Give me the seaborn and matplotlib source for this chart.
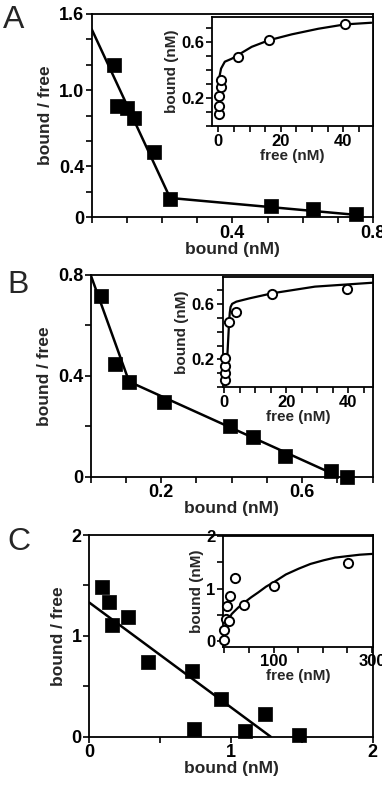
import matplotlib
matplotlib.use("Agg")
import matplotlib.pyplot as plt
import seaborn as sns
import pandas as pd

# ---------------- data ----------------
# Panel A (Scatchard) : bound (nM) vs bound/free
A_bound = [0.064, 0.073, 0.099, 0.120, 0.177, 0.223, 0.509, 0.628, 0.751]
A_ratio = [1.20, 0.877, 0.861, 0.777, 0.512, 0.139, 0.084, 0.063, 0.021]
A_fit_x = [0.0, 0.223, 0.767]
A_fit_y = [1.48, 0.15, 0.013]
# Panel A inset (saturation)
A_free = [0.1, 0.1, 0.1, 0.9, 0.9, 6.2, 16.2, 40.5]
A_sat = [0.083, 0.146, 0.212, 0.278, 0.33, 0.494, 0.612, 0.73]
A_curve_x = [0.3, 0.9, 2.1, 4.3, 6.2, 10.7, 16.2, 23.5, 32.0, 40.5, 49.0]
A_curve_y = [0.342, 0.41, 0.459, 0.48, 0.505, 0.565, 0.612, 0.654, 0.694, 0.725, 0.737]

# Panel B
B_bound = [0.028, 0.068, 0.109, 0.207, 0.395, 0.461, 0.551, 0.681, 0.728]
B_ratio = [0.717, 0.447, 0.377, 0.298, 0.201, 0.159, 0.082, 0.024, 0.0]
B_fit_x = [0.0, 0.109, 0.694]
B_fit_y = [0.80, 0.377, 0.007]
B_free = [0.2, 0.2, 0.2, 0.2, 1.6, 3.7, 15.6, 39.6]
B_sat = [0.05, 0.098, 0.154, 0.207, 0.473, 0.546, 0.675, 0.709]
B_curve_x = [0.57, 1.1, 1.63, 1.85, 2.1, 2.6, 3.96, 8.2, 15.6, 29.3, 48.3]
B_curve_y = [0.013, 0.244, 0.473, 0.54, 0.580, 0.603, 0.619, 0.643, 0.68, 0.728, 0.757]

# Panel C
C_bound = [0.087, 0.139, 0.158, 0.271, 0.412, 0.722, 0.739, 0.927, 1.099, 1.24, 1.482]
C_ratio = [1.488, 1.339, 1.107, 1.183, 0.744, 0.651, 0.073, 0.370, 0.060, 0.225, 0.017]
C_fit_x = [0.0, 1.28]
C_fit_y = [1.33, 0.0]
C_free = [0.0, 0.0, 3.7, 5.0, 11.8, 9.8, 22.0, 41.0, 100.0, 252.0]
C_sat = [0.03, 0.22, 0.42, 0.68, 0.87, 0.39, 1.21, 0.70, 1.06, 1.48]
C_curve_x = [1.6, 8, 15, 28, 41, 55, 69, 85, 100, 125, 151, 175, 202, 225, 252, 275, 300]
C_curve_y = [0.26, 0.40, 0.52, 0.64, 0.74, 0.84, 0.93, 1.04, 1.12, 1.27, 1.38, 1.47, 1.54, 1.59, 1.62, 1.645, 1.66]

# tick definitions
A_xt = [0, 0.1, 0.2, 0.3, 0.4, 0.5, 0.6, 0.7, 0.8]
A_xtl = ["", "", "", "", "0.4", "", "", "", "0.8"]
A_yt = [0, 0.2, 0.4, 0.6, 0.8, 1.0, 1.2, 1.4, 1.6]
A_ytl = ["0", "", "0.4", "", "", "1.0", "", "", "1.6"]
B_xt = A_xt
B_xtl = ["", "", "0.2", "", "", "", "0.6", "", ""]
B_yt = [0, 0.2, 0.4, 0.6, 0.8]
B_ytl = ["0", "", "0.4", "", "0.8"]
C_xt = [0, 0.5, 1, 1.5, 2]
C_xtl = ["0", "", "1", "", "2"]
C_yt = [0, 0.5, 1, 1.5, 2]
C_ytl = ["0", "", "1", "", "2"]

I_xt = [0, 5, 10, 15, 20, 25, 30, 35, 40, 45]
I_xtl = ["0", "", "", "", "20", "", "", "", "40", ""]
I_yt = [0, 0.1, 0.2, 0.3, 0.4, 0.5, 0.6, 0.7]
I_ytl = ["", "", "0.2", "", "", "", "0.6", ""]
IC_xt = [0, 50, 100, 150, 200, 250, 300]
IC_xtl = ["", "", "100", "", "", "", "300"]
IC_yt = [0, 0.5, 1, 1.5, 2]
IC_ytl = ["0", "", "1", "", "2"]

# ---------------- style ----------------
sns.set_style("ticks")
plt.rcParams["font.family"] = ["Liberation Sans", "DejaVu Sans"]
plt.rcParams["font.weight"] = "bold"
plt.rcParams["axes.labelweight"] = "bold"

W, H = 382, 786
fig = plt.figure(figsize=(W / 100, H / 100), dpi=100)


def box(l, t, r, b):
    return [l / W, 1 - b / H, (r - l) / W, (b - t) / H]


def style(ax, xlim, ylim, xt, xtl, yt, ytl, xlabel, ylabel, fs_tick, fs_lab, xpad, ypad):
    ax.set_xlim(*xlim)
    ax.set_ylim(*ylim)
    ax.set_xticks(xt)
    ax.set_xticklabels(xtl)
    ax.set_yticks(yt)
    ax.set_yticklabels(ytl)
    ax.tick_params(direction="out", length=4, width=1.2, labelsize=fs_tick, pad=1.5, colors="black")
    for s in ax.spines.values():
        s.set_visible(True)
        s.set_linewidth(1.3)
        s.set_color("black")
    ax.set_xlabel(xlabel, fontsize=fs_lab, fontweight="bold", labelpad=xpad)
    ax.set_ylabel(ylabel, fontsize=fs_lab, fontweight="bold", labelpad=ypad)


def main_panel(rect, bx, by, fx, fy, xlim, ylim, xt, xtl, yt, ytl):
    ax = fig.add_axes(rect)
    sns.lineplot(x=fx, y=fy, ax=ax, color="black", lw=1.8, sort=False, estimator=None)
    sns.scatterplot(x=bx, y=by, ax=ax, marker="s", s=95, color="black",
                    edgecolor="black", linewidth=0.5, zorder=3, clip_on=False)
    style(ax, xlim, ylim, xt, xtl, yt, ytl, "bound (nM)", "bound / free", 13, 12.5, 0, 4)
    return ax


def inset_panel(rect, fx, fy, cx, cy, xlim, ylim, xt, xtl, yt, ytl):
    ax = fig.add_axes(rect)
    ax.set_facecolor("white")
    sns.lineplot(x=cx, y=cy, ax=ax, color="black", lw=1.6, sort=False, estimator=None)
    sns.scatterplot(x=fx, y=fy, ax=ax, marker="o", s=44, facecolor="white",
                    edgecolor="black", linewidth=1.4, zorder=3, clip_on=False)
    style(ax, xlim, ylim, xt, xtl, yt, ytl, "free (nM)", "bound (nM)", 12, 11, 0, 2)
    return ax


main_panel(box(91.7, 14, 373, 217), A_bound, A_ratio, A_fit_x, A_fit_y,
           (0, 0.8), (0, 1.6), A_xt, A_xtl, A_yt, A_ytl)
inset_panel(box(212, 16.7, 373, 126), A_free, A_sat, A_curve_x, A_curve_y,
            (-2, 49.5), (0, 0.78), I_xt, I_xtl, I_yt, I_ytl)

main_panel(box(90.7, 275, 372.7, 476.7), B_bound, B_ratio, B_fit_x, B_fit_y,
           (0, 0.8), (0, 0.8), B_xt, B_xtl, B_yt, B_ytl)
inset_panel(box(222.5, 276.7, 373, 387), B_free, B_sat, B_curve_x, B_curve_y,
            (-0.5, 48), (0, 0.8), I_xt, I_xtl, I_yt, I_ytl)

main_panel(box(89.3, 535, 372.7, 736.7), C_bound, C_ratio, C_fit_x, C_fit_y,
           (0, 2), (0, 2), C_xt, C_xtl, C_yt, C_ytl)
inset_panel(box(223.3, 536, 373, 646.7), C_free, C_sat, C_curve_x, C_curve_y,
            (-2, 302), (-0.1, 2.0), IC_xt, IC_xtl, IC_yt, IC_ytl)

for letter, x, y in [("A", 3, 5), ("B", 7, 270), ("C", 7, 527)]:
    fig.text(x / W, 1 - y / H, letter, fontsize=23, fontweight="normal",
             ha="left", va="top")

fig.savefig("out.png", dpi=100)
